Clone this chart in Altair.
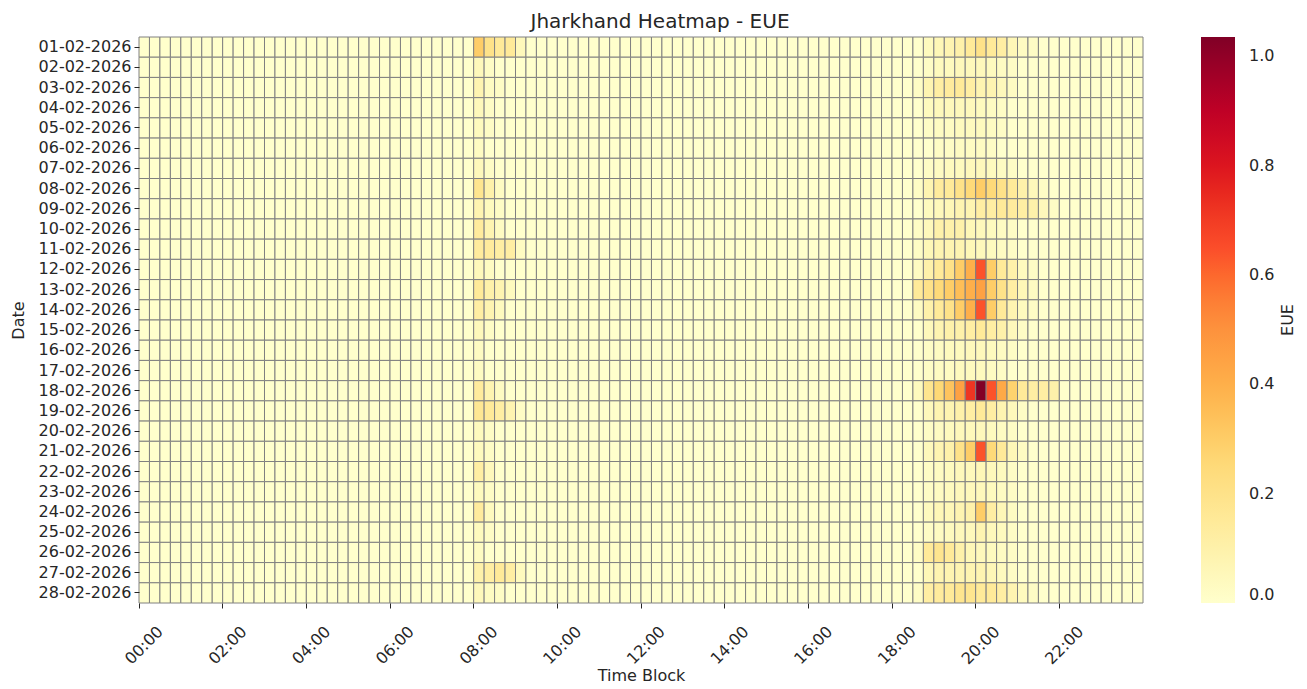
import altair as alt
import pandas as pd

# ---------------- data ----------------
dates = [
    "01-02-2026", "02-02-2026", "03-02-2026", "04-02-2026", "05-02-2026",
    "06-02-2026", "07-02-2026", "08-02-2026", "09-02-2026", "10-02-2026",
    "11-02-2026", "12-02-2026", "13-02-2026", "14-02-2026", "15-02-2026",
    "16-02-2026", "17-02-2026", "18-02-2026", "19-02-2026", "20-02-2026",
    "21-02-2026", "22-02-2026", "23-02-2026", "24-02-2026", "25-02-2026",
    "26-02-2026", "27-02-2026", "28-02-2026",
]

# 96 fifteen-minute time blocks (category labels)
time_blocks = [f"{h:02d}:{m:02d}" for h in range(24) for m in (0, 15, 30, 45)]

x_tick_labels = ["00:00", "02:00", "04:00", "06:00", "08:00", "10:00",
                 "12:00", "14:00", "16:00", "18:00", "20:00", "22:00"]

# morning window: blocks 08:00 .. 09:00 (block 32 onwards)
morning_start = 32
morning_eue = [
    [0.30, 0.20, 0.15, 0.15, 0.05],
    [0.05, 0.02, 0.00, 0.00, 0.00],
    [0.08, 0.03, 0.02, 0.00, 0.00],
    [0.05, 0.02, 0.00, 0.00, 0.00],
    [0.04, 0.02, 0.00, 0.00, 0.00],
    [0.03, 0.00, 0.00, 0.00, 0.00],
    [0.05, 0.02, 0.00, 0.00, 0.00],
    [0.18, 0.10, 0.03, 0.00, 0.00],
    [0.08, 0.04, 0.02, 0.00, 0.00],
    [0.14, 0.08, 0.03, 0.00, 0.00],
    [0.14, 0.14, 0.12, 0.12, 0.03],
    [0.05, 0.03, 0.00, 0.00, 0.00],
    [0.15, 0.10, 0.08, 0.04, 0.00],
    [0.12, 0.08, 0.04, 0.00, 0.00],
    [0.05, 0.02, 0.00, 0.00, 0.00],
    [0.03, 0.00, 0.00, 0.00, 0.00],
    [0.03, 0.00, 0.00, 0.00, 0.00],
    [0.14, 0.08, 0.03, 0.00, 0.00],
    [0.17, 0.15, 0.12, 0.08, 0.02],
    [0.04, 0.02, 0.00, 0.00, 0.00],
    [0.04, 0.02, 0.00, 0.00, 0.00],
    [0.12, 0.05, 0.00, 0.00, 0.00],
    [0.04, 0.02, 0.00, 0.00, 0.00],
    [0.14, 0.04, 0.00, 0.00, 0.00],
    [0.04, 0.02, 0.00, 0.00, 0.00],
    [0.03, 0.00, 0.00, 0.00, 0.00],
    [0.10, 0.12, 0.15, 0.12, 0.04],
    [0.05, 0.03, 0.02, 0.00, 0.00],
]

# evening window: blocks 18:30 .. 21:45 (block 74 onwards)
evening_start = 74
evening_eue = [
    [0.00, 0.04, 0.06, 0.08, 0.10, 0.15, 0.20, 0.15, 0.12, 0.06, 0.03, 0.02, 0.00, 0.00],
    [0.00, 0.02, 0.04, 0.04, 0.05, 0.05, 0.05, 0.04, 0.03, 0.02, 0.00, 0.00, 0.00, 0.00],
    [0.02, 0.08, 0.12, 0.14, 0.15, 0.12, 0.08, 0.08, 0.05, 0.03, 0.00, 0.00, 0.00, 0.00],
    [0.00, 0.04, 0.05, 0.05, 0.05, 0.05, 0.04, 0.03, 0.02, 0.00, 0.00, 0.00, 0.00, 0.00],
    [0.00, 0.02, 0.03, 0.03, 0.04, 0.04, 0.04, 0.03, 0.02, 0.00, 0.00, 0.00, 0.00, 0.00],
    [0.00, 0.00, 0.02, 0.02, 0.03, 0.03, 0.03, 0.02, 0.00, 0.00, 0.00, 0.00, 0.00, 0.00],
    [0.00, 0.02, 0.03, 0.04, 0.04, 0.05, 0.05, 0.04, 0.03, 0.02, 0.00, 0.00, 0.00, 0.00],
    [0.02, 0.08, 0.14, 0.15, 0.20, 0.25, 0.30, 0.25, 0.20, 0.15, 0.10, 0.05, 0.02, 0.00],
    [0.00, 0.04, 0.05, 0.06, 0.08, 0.08, 0.12, 0.12, 0.15, 0.14, 0.12, 0.10, 0.05, 0.02],
    [0.02, 0.05, 0.10, 0.10, 0.10, 0.06, 0.05, 0.04, 0.03, 0.02, 0.00, 0.00, 0.00, 0.00],
    [0.02, 0.06, 0.08, 0.08, 0.08, 0.06, 0.05, 0.04, 0.03, 0.02, 0.00, 0.00, 0.00, 0.00],
    [0.03, 0.10, 0.15, 0.20, 0.30, 0.40, 0.64, 0.30, 0.15, 0.10, 0.04, 0.02, 0.00, 0.00],
    [0.15, 0.20, 0.25, 0.30, 0.35, 0.40, 0.45, 0.30, 0.20, 0.12, 0.06, 0.03, 0.00, 0.00],
    [0.03, 0.10, 0.15, 0.20, 0.30, 0.40, 0.64, 0.30, 0.15, 0.08, 0.04, 0.02, 0.00, 0.00],
    [0.00, 0.05, 0.08, 0.10, 0.10, 0.12, 0.15, 0.12, 0.10, 0.05, 0.02, 0.00, 0.00, 0.00],
    [0.00, 0.02, 0.03, 0.04, 0.04, 0.05, 0.05, 0.04, 0.03, 0.02, 0.00, 0.00, 0.00, 0.00],
    [0.00, 0.02, 0.03, 0.03, 0.04, 0.04, 0.04, 0.03, 0.02, 0.00, 0.00, 0.00, 0.00, 0.00],
    [0.04, 0.18, 0.26, 0.33, 0.45, 0.72, 1.03, 0.64, 0.42, 0.28, 0.15, 0.12, 0.12, 0.10],
    [0.00, 0.05, 0.08, 0.08, 0.10, 0.12, 0.15, 0.12, 0.08, 0.05, 0.02, 0.00, 0.00, 0.00],
    [0.00, 0.02, 0.03, 0.04, 0.05, 0.05, 0.05, 0.04, 0.03, 0.02, 0.00, 0.00, 0.00, 0.00],
    [0.00, 0.05, 0.08, 0.10, 0.20, 0.30, 0.64, 0.25, 0.15, 0.06, 0.03, 0.00, 0.00, 0.00],
    [0.00, 0.02, 0.03, 0.04, 0.05, 0.05, 0.06, 0.05, 0.04, 0.02, 0.00, 0.00, 0.00, 0.00],
    [0.00, 0.02, 0.03, 0.04, 0.05, 0.05, 0.05, 0.04, 0.03, 0.02, 0.00, 0.00, 0.00, 0.00],
    [0.00, 0.04, 0.06, 0.06, 0.08, 0.10, 0.30, 0.12, 0.06, 0.03, 0.00, 0.00, 0.00, 0.00],
    [0.00, 0.02, 0.03, 0.04, 0.05, 0.05, 0.08, 0.05, 0.04, 0.02, 0.00, 0.00, 0.00, 0.00],
    [0.02, 0.15, 0.18, 0.15, 0.10, 0.06, 0.05, 0.04, 0.03, 0.02, 0.00, 0.00, 0.00, 0.00],
    [0.00, 0.06, 0.08, 0.08, 0.08, 0.08, 0.08, 0.06, 0.04, 0.02, 0.00, 0.00, 0.00, 0.00],
    [0.02, 0.12, 0.14, 0.15, 0.18, 0.18, 0.15, 0.15, 0.12, 0.08, 0.04, 0.02, 0.00, 0.00],
]

cbar_ticks = [0.0, 0.2, 0.4, 0.6, 0.8, 1.0]
cbar_label = ["EUE"]
ylorrd = ["#ffffcc", "#ffeda0", "#fed976", "#feb24c", "#fd8d3c",
          "#fc4e2a", "#e31a1c", "#bd0026", "#800026"]
ylorrd_stops = [0.0, 0.129375, 0.25875, 0.388125, 0.5175,
                0.646875, 0.77625, 0.905625, 1.035]

# ---------------- table ----------------
records = []
for i, d in enumerate(dates):
    for j, tb in enumerate(time_blocks):
        v = 0.0
        if morning_start <= j < morning_start + len(morning_eue[i]):
            v = morning_eue[i][j - morning_start]
        if evening_start <= j < evening_start + len(evening_eue[i]):
            v = evening_eue[i][j - evening_start]
        records.append({"Date": d, "Time Block": tb, "EUE": v})
df = pd.DataFrame(records)

FONT = "DejaVu Sans"
TXT = "#262626"

heat = alt.Chart(df).mark_rect(stroke="#808080", strokeWidth=1).encode(
    x=alt.X("Time Block:O", sort=time_blocks,
            scale=alt.Scale(paddingInner=0, paddingOuter=0),
            axis=alt.Axis(values=x_tick_labels, bandPosition=0, labelAngle=-45,
                          labelAlign="center", labelBaseline="middle",
                          labelPadding=37, tickSize=5, tickColor=TXT,
                          domain=False, labelFontSize=16, labelColor=TXT,
                          labelFont=FONT, title="Time Block", titleFont=FONT,
                          titleFontSize=16, titleFontWeight="normal",
                          titleColor=TXT, titleY=72, titleBaseline="middle")),
    y=alt.Y("Date:O", sort=dates,
            scale=alt.Scale(paddingInner=0, paddingOuter=0),
            axis=alt.Axis(tickSize=5, tickColor=TXT, domain=False,
                          labelFontSize=16, labelColor=TXT, labelFont=FONT,
                          labelPadding=3, title="Date", titleFont=FONT,
                          titleFontSize=16, titleFontWeight="normal",
                          titleColor=TXT, titleX=-121, titleY=283,
                          titleBaseline="middle")),
    color=alt.Color("EUE:Q",
                    scale=alt.Scale(domain=ylorrd_stops, range=ylorrd),
                    legend=alt.Legend(orient="none", legendX=1062, legendY=0,
                                      direction="vertical",
                                      gradientLength=566, gradientThickness=34,
                                      gradientStrokeWidth=0,
                                      values=cbar_ticks, format=".1f",
                                      labelFontSize=16, labelFont=FONT,
                                      labelColor=TXT, labelOffset=14,
                                      labelBaseline="middle",
                                      title=None, padding=0)),
)

cbar_title = alt.Chart(pd.DataFrame({"label": cbar_label})).mark_text(
    angle=270, font=FONT, fontSize=16, color=TXT, align="center",
    baseline="middle",
).encode(text="label:N", x=alt.value(1149), y=alt.value(283))

chart = alt.layer(heat, cbar_title).properties(
    width=1004,
    height=566,
    title=alt.TitleParams("Jharkhand Heatmap - EUE", fontSize=20, font=FONT,
                          fontWeight="normal", color=TXT, anchor="middle",
                          offset=5, dx=19),
    autosize=alt.AutoSizeParams(type="none"),
    padding={"left": 131, "top": 29, "right": 156, "bottom": 82},
).configure_view(stroke=None)

chart.save("out.html", embed_options={"renderer": "svg", "actions": False})
